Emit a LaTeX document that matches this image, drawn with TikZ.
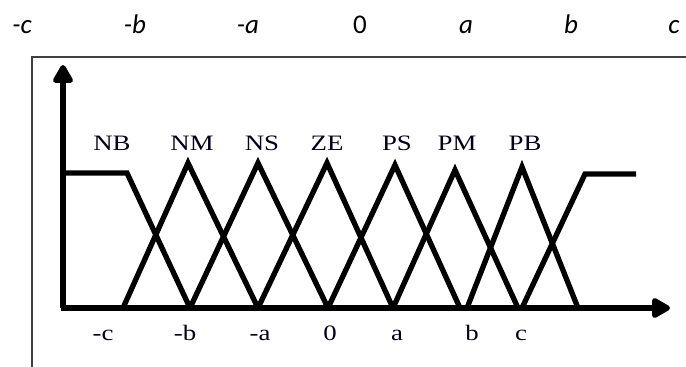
\documentclass[tikz,border=0pt]{standalone}
\usepackage{fontspec}
\setmainfont{Liberation Serif}
\newfontfamily\toplbl{Carlito}
\newfontfamily\setlblfont[FakeStretch=1.22]{Liberation Serif}
\usetikzlibrary{arrows.meta}
\begin{document}
\begin{tikzpicture}[x=1pt,y=-1pt,
  mf/.style={line width=5.3pt, line join=miter, black},
  axisline/.style={line width=5.3pt, black, -{Triangle[length=21pt,width=22pt,round]}},
  toplabel/.style={font=\toplbl\fontsize{27}{27}\selectfont\itshape, inner sep=0pt, anchor=base},
  setlabel/.style={font=\setlblfont\fontsize{22}{22}\selectfont, inner sep=0pt, anchor=base, text=black!90!blue},
  frameline/.style={line width=2pt, draw=black!75}]
\useasboundingbox (0,0) rectangle (686,367);
% frame
\coordinate (fbl) at (32,367);
\coordinate (ftl) at (32,57);
\coordinate (ftr) at (686,57);
\draw[frameline] (fbl) -- (ftl) -- (ftr);
% top labels
\node[toplabel] (tmc) at (22,33) {-c};
\node[toplabel] (tmb) at (135,33) {-b};
\node[toplabel] (tma) at (248,33) {-a};
\node[toplabel] (tz) at (360,33) {\upshape 0};
\node[toplabel] (ta) at (466,33) {a};
\node[toplabel] (tb) at (571,33) {b};
\node[toplabel] (tc) at (674,33) {c};
% axes
\coordinate (O) at (63,308);
\coordinate (ytip) at (63,65);
\coordinate (xs) at (61,308);
\coordinate (xtip) at (670,308);
\draw[axisline] (O) -- (ytip);
\draw[axisline] (xs) -- (xtip);
% membership functions
\draw[mf] (63,173) -- (127,173) -- (190,308);
\draw[mf] (123,308) -- (188,163) -- (258,308);
\draw[mf] (190,308) -- (258,163) -- (328,308);
\draw[mf] (258,308) -- (327,163) -- (393,308);
\draw[mf] (328,308) -- (395,165) -- (460,308);
\draw[mf] (393,308) -- (455,170) -- (518,308);
\draw[mf] (467,308) -- (522,167) -- (578,308);
\draw[mf] (522,308) -- (585,174) -- (636,174);
% set labels
\node[setlabel] (nb) at (112,150) {NB};
\node[setlabel] (nm) at (192,150) {NM};
\node[setlabel] (ns) at (262,150) {NS};
\node[setlabel] (ze) at (327,150) {ZE};
\node[setlabel] (ps) at (397,150) {PS};
\node[setlabel] (pm) at (457,150) {PM};
\node[setlabel] (pb) at (525,150) {PB};
% axis labels
\node[setlabel] (bmc) at (103,340) {-c};
\node[setlabel] (bmb) at (185,340) {-b};
\node[setlabel] (bma) at (260,340) {-a};
\node[setlabel] (bz) at (330,340) {0};
\node[setlabel] (ba) at (397,340) {a};
\node[setlabel] (bb) at (472,340) {b};
\node[setlabel] (bc) at (521,340) {c};
\end{tikzpicture}
\end{document}
